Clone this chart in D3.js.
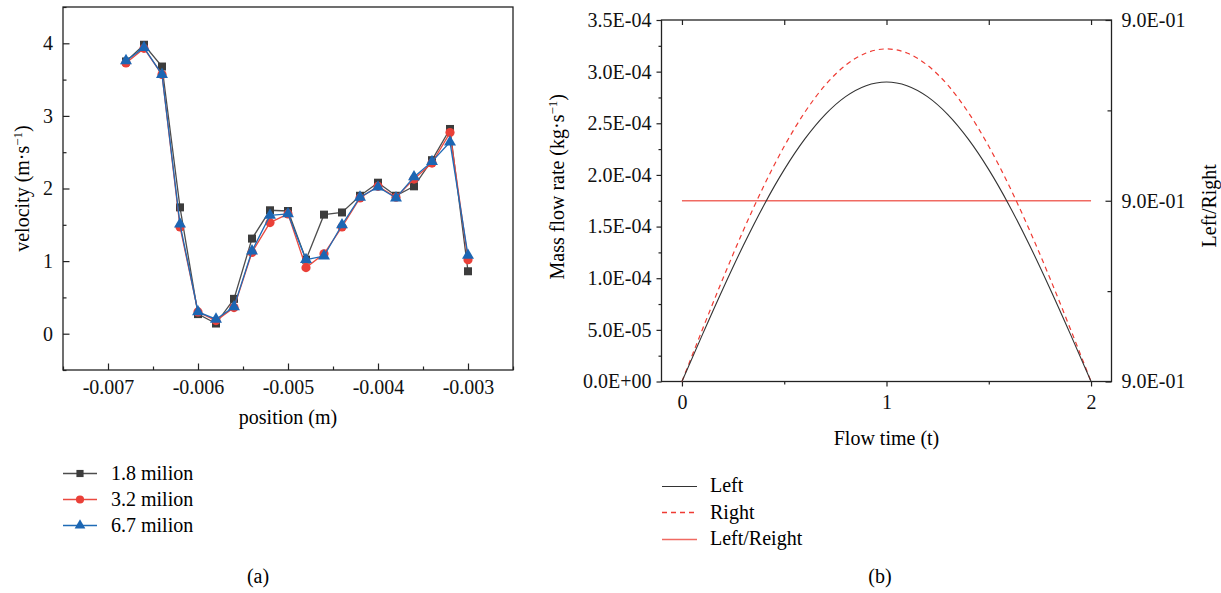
<!DOCTYPE html>
<html>
<head>
<meta charset="utf-8">
<script src="https://cdn.jsdelivr.net/npm/d3@7"></script>
<style>
  html, body { margin: 0; padding: 0; background: #fff; }
  svg { display: block; font-family: "Liberation Serif", "Times New Roman", serif; }
  svg text { font-family: "Liberation Serif", "Times New Roman", serif; }
</style>
</head>
<body>
<svg id="chart" width="1221" height="593"></svg>
<script>
// ---------- Data: panel (a) ----------
const positions = [-0.0068, -0.0066, -0.0064, -0.0062, -0.0060, -0.0058, -0.0056, -0.0054, -0.0052, -0.0050,
                   -0.0048, -0.0046, -0.0044, -0.0042, -0.0040, -0.0038, -0.0036, -0.0034, -0.0032, -0.0030];
const vel18 = [3.75, 3.98, 3.68, 1.74, 0.27, 0.14, 0.48, 1.31, 1.70, 1.69,
               1.02, 1.64, 1.67, 1.90, 2.08, 1.90, 2.03, 2.39, 2.82, 0.86];
const vel32 = [3.73, 3.93, 3.57, 1.47, 0.30, 0.18, 0.36, 1.12, 1.53, 1.65,
               0.91, 1.10, 1.47, 1.87, 2.03, 1.88, 2.13, 2.35, 2.77, 1.02];
const vel67 = [3.76, 3.94, 3.57, 1.51, 0.30, 0.20, 0.37, 1.14, 1.63, 1.65,
               1.02, 1.07, 1.50, 1.88, 2.02, 1.87, 2.16, 2.37, 2.64, 1.08];
const seriesNamesA = ["1.8 milion", "3.2 milion", "6.7 milion"];
const posTicks = [-0.007, -0.006, -0.005, -0.004, -0.003];
const posMinor = [-0.0075, -0.0065, -0.0055, -0.0045, -0.0035, -0.0025];
const velTicks = [0, 1, 2, 3, 4];
const velMinor = [-0.5, 0.5, 1.5, 2.5, 3.5, 4.5];

// ---------- Data: panel (b) ----------
const flowTime  = [0, 0.1, 0.2, 0.3, 0.4, 0.5, 0.6, 0.7, 0.8, 0.9, 1.0,
                   1.1, 1.2, 1.3, 1.4, 1.5, 1.6, 1.7, 1.8, 1.9, 2.0];
const leftFlow  = [0, 0.454e-4, 0.896e-4, 1.317e-4, 1.705e-4, 2.051e-4, 2.346e-4, 2.584e-4, 2.758e-4, 2.864e-4, 2.900e-4,
                   2.864e-4, 2.758e-4, 2.584e-4, 2.346e-4, 2.051e-4, 1.705e-4, 1.317e-4, 0.896e-4, 0.454e-4, 0];
const rightFlow = [0, 0.504e-4, 0.995e-4, 1.462e-4, 1.893e-4, 2.277e-4, 2.605e-4, 2.869e-4, 3.062e-4, 3.180e-4, 3.220e-4,
                   3.180e-4, 3.062e-4, 2.869e-4, 2.605e-4, 2.277e-4, 1.893e-4, 1.462e-4, 0.995e-4, 0.504e-4, 0];
const ratioLR   = [0.9, 0.9, 0.9, 0.9, 0.9, 0.9, 0.9, 0.9, 0.9, 0.9, 0.9,
                   0.9, 0.9, 0.9, 0.9, 0.9, 0.9, 0.9, 0.9, 0.9, 0.9];
const seriesNamesB = ["Left", "Right", "Left/Reight"];
const timeTicks = [0, 1, 2];
const timeMinor = [0.5, 1.5];
const massTicks = [0, 0.5e-4, 1.0e-4, 1.5e-4, 2.0e-4, 2.5e-4, 3.0e-4, 3.5e-4];
const massMinor = [0.25e-4, 0.75e-4, 1.25e-4, 1.75e-4, 2.25e-4, 2.75e-4, 3.25e-4];
const ratioTicks = [0.8999, 0.9, 0.9001];
const ratioMinor = [0.89995, 0.90005];

// ---------- Helpers ----------
const svg = d3.select("#chart");
const AX = "#222";
const FS = 20;
const SERIF = '"Liberation Serif", "Times New Roman", serif';
function sciFmt(v) {
  const s = d3.format(".1e")(v);
  return s.replace("−", "-").replace(/e([+-])(\d+)$/, (m, sg, e) => "E" + sg + (e.length < 2 ? "0" + e : e));
}
function styleAxis(g) {
  g.attr("font-family", SERIF).attr("font-size", FS);
  g.selectAll("path.domain").remove();
  g.selectAll("line").attr("stroke", AX).attr("stroke-width", 1.2);
  g.selectAll("text").attr("fill", "#111").style("font-size", FS + "px").style("font-family", SERIF);
}

// ================= Panel (a) =================
const A = { x0: 63, x1: 513, y0: 7, y1: 370 };
const xa = d3.scaleLinear().domain([-0.0075, -0.0025]).range([A.x0, A.x1]);
const ya = d3.scaleLinear().domain([-0.5, 4.5]).range([A.y1, A.y0]);
const ga = svg.append("g");

ga.append("g").attr("transform", `translate(0,${A.y1})`)
  .call(d3.axisBottom(xa).tickValues(posTicks).tickSize(-6.5).tickPadding(10)
    .tickFormat(d => d3.format(".3f")(d).replace("−", "-")))
  .call(styleAxis);
ga.append("g").attr("transform", `translate(0,${A.y1})`)
  .call(d3.axisBottom(xa).tickValues(posMinor).tickSize(-3.5).tickFormat(""))
  .call(styleAxis);
ga.append("g").attr("transform", `translate(${A.x0},0)`)
  .call(d3.axisLeft(ya).tickValues(velTicks).tickSize(-6.5).tickPadding(10).tickFormat(d3.format("d")))
  .call(styleAxis);
ga.append("g").attr("transform", `translate(${A.x0},0)`)
  .call(d3.axisLeft(ya).tickValues(velMinor).tickSize(-3.5).tickFormat(""))
  .call(styleAxis);
ga.append("rect").attr("x", A.x0).attr("y", A.y0).attr("width", A.x1 - A.x0).attr("height", A.y1 - A.y0)
  .attr("fill", "none").attr("stroke", AX).attr("stroke-width", 1.3);

ga.append("text").attr("x", (A.x0 + A.x1) / 2).attr("y", 424).attr("text-anchor", "middle")
  .style("font-size", FS + "px").text("position (m)");
const yTitleA = ga.append("text").attr("transform", `translate(29,${(A.y0 + A.y1) / 2}) rotate(-90)`)
  .attr("text-anchor", "middle").style("font-size", FS + "px");
yTitleA.append("tspan").text("velocity (m·s");
yTitleA.append("tspan").attr("dy", -7).style("font-size", "13px").text("−1");
yTitleA.append("tspan").attr("dy", 7).text(")");

const seriesA = [
  { name: seriesNamesA[0], values: vel18, line: "#4d4d4d", fill: "#3c3c3c", sym: d3.symbolSquare, size: 64 },
  { name: seriesNamesA[1], values: vel32, line: "#ea4a40", fill: "#ea4038", sym: d3.symbolCircle, size: 66 },
  { name: seriesNamesA[2], values: vel67, line: "#1f6bb6", fill: "#1c66b3", sym: d3.symbolTriangle, size: 62 }
];
const lineA = d3.line().x(d => xa(d[0])).y(d => ya(d[1]));
seriesA.forEach(s => {
  const pts = positions.map((p, i) => [p, s.values[i]]);
  ga.append("path").datum(pts).attr("d", lineA).attr("fill", "none")
    .attr("stroke", s.line).attr("stroke-width", 1.3);
  ga.selectAll(null).data(pts).enter().append("path")
    .attr("transform", d => `translate(${xa(d[0])},${ya(d[1])})`)
    .attr("d", d3.symbol().type(s.sym).size(s.size))
    .attr("fill", s.fill);
});

// legend (a)
const legA = ga.append("g");
seriesA.forEach((s, i) => {
  const y = 473.5 + i * 26;
  legA.append("line").attr("x1", 63).attr("x2", 97).attr("y1", y).attr("y2", y)
    .attr("stroke", s.line).attr("stroke-width", 1.3);
  legA.append("path").attr("transform", `translate(80,${y})`)
    .attr("d", d3.symbol().type(s.sym).size(s.size * 0.8)).attr("fill", s.fill);
  legA.append("text").attr("x", 111).attr("y", y + 6.5).style("font-size", FS + "px").text(s.name);
});
ga.append("text").attr("x", 258).attr("y", 583).attr("text-anchor", "middle")
  .style("font-size", FS + "px").text("(a)");

// ================= Panel (b) =================
const B = { x0: 661.5, x1: 1111.5, y0: 20, y1: 381.5 };
const xb = d3.scaleLinear().domain([-0.1, 2.1]).range([B.x0, B.x1]);
const yb = d3.scaleLinear().domain([0, 3.5e-4]).range([B.y1, B.y0]);
const yr = d3.scaleLinear().domain([0.8999, 0.9001]).range([B.y1, B.y0]);
const gb = svg.append("g");

gb.append("g").attr("transform", `translate(0,${B.y1})`)
  .call(d3.axisBottom(xb).tickValues(timeTicks).tickSize(5).tickPadding(8).tickFormat(d3.format("d")))
  .call(styleAxis);
gb.append("g").attr("transform", `translate(0,${B.y1})`)
  .call(d3.axisBottom(xb).tickValues(timeMinor).tickSize(3).tickFormat(""))
  .call(styleAxis);
gb.append("g").attr("transform", `translate(0,${B.y0})`)
  .call(d3.axisTop(xb).tickValues(timeTicks.concat(timeMinor)).tickSize(-5).tickFormat(""))
  .call(styleAxis);
gb.append("g").attr("transform", `translate(${B.x0},0)`)
  .call(d3.axisLeft(yb).tickValues(massTicks).tickSize(5).tickPadding(5).tickFormat(sciFmt))
  .call(styleAxis);
gb.append("g").attr("transform", `translate(${B.x0},0)`)
  .call(d3.axisLeft(yb).tickValues(massMinor).tickSize(3).tickFormat(""))
  .call(styleAxis);
gb.append("g").attr("transform", `translate(${B.x1},0)`)
  .call(d3.axisRight(yr).tickValues(ratioTicks).tickSize(-6).tickPadding(10).tickFormat(sciFmt))
  .call(styleAxis);
gb.append("g").attr("transform", `translate(${B.x1},0)`)
  .call(d3.axisRight(yr).tickValues(ratioMinor).tickSize(-4).tickFormat(""))
  .call(styleAxis);
gb.append("rect").attr("x", B.x0).attr("y", B.y0).attr("width", B.x1 - B.x0).attr("height", B.y1 - B.y0)
  .attr("fill", "none").attr("stroke", AX).attr("stroke-width", 1.3);

gb.append("text").attr("x", xb(1)).attr("y", 445).attr("text-anchor", "middle")
  .style("font-size", FS + "px").text("Flow time (t)");
const yTitleB = gb.append("text").attr("transform", `translate(564,${(B.y0 + B.y1) / 2 - 14}) rotate(-90)`)
  .attr("text-anchor", "middle").style("font-size", FS + "px");
yTitleB.append("tspan").text("Mass flow rate (kg·s");
yTitleB.append("tspan").attr("dy", -7).style("font-size", "13px").text("−1");
yTitleB.append("tspan").attr("dy", 7).text(")");
gb.append("text").attr("transform", `translate(1216,${(B.y0 + B.y1) / 2 + 5}) rotate(-90)`)
  .attr("text-anchor", "middle").style("font-size", FS + "px").text("Left/Right");

const lineB = d3.line().curve(d3.curveMonotoneX).x(d => xb(d[0])).y(d => yb(d[1]));
const lineR = d3.line().x(d => xb(d[0])).y(d => yr(d[1]));
gb.append("path").datum(flowTime.map((t, i) => [t, ratioLR[i]])).attr("d", lineR)
  .attr("fill", "none").attr("stroke", "#f06a62").attr("stroke-width", 1.6);
gb.append("path").datum(flowTime.map((t, i) => [t, rightFlow[i]])).attr("d", lineB)
  .attr("fill", "none").attr("stroke", "#ef3b33").attr("stroke-width", 1.2).attr("stroke-dasharray", "5,4");
gb.append("path").datum(flowTime.map((t, i) => [t, leftFlow[i]])).attr("d", lineB)
  .attr("fill", "none").attr("stroke", "#333").attr("stroke-width", 1.1);

const legB = [
  { name: seriesNamesB[0], color: "#333", dash: null, w: 1.1 },
  { name: seriesNamesB[1], color: "#ef3b33", dash: "5,4", w: 1.5 },
  { name: seriesNamesB[2], color: "#f06a62", dash: null, w: 1.6 }
];
legB.forEach((s, i) => {
  const y = 485.5 + i * 26.5;
  const ln = gb.append("line").attr("x1", 662).attr("x2", 697).attr("y1", Math.round(y) + 0.5).attr("y2", Math.round(y) + 0.5)
    .attr("stroke", s.color).attr("stroke-width", s.w);
  if (s.dash) ln.attr("stroke-dasharray", s.dash);
  gb.append("text").attr("x", 710).attr("y", y + 6.5).style("font-size", FS + "px").text(s.name);
});
gb.append("text").attr("x", 880).attr("y", 583).attr("text-anchor", "middle")
  .style("font-size", FS + "px").text("(b)");
</script>
</body>
</html>
